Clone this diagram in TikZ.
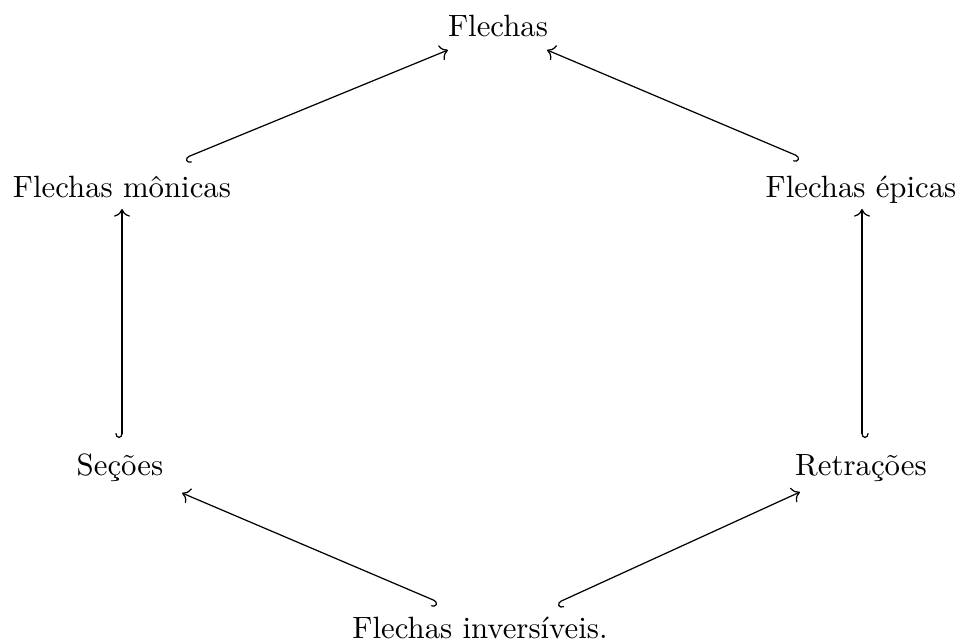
\documentclass[tikz,border=0pt]{standalone}
\usepackage{fontspec}
\usetikzlibrary{cd,calc}
\begin{document}
\begin{tikzpicture}[x=0.3247pt,y=-0.3247pt,
  lbl/.style={anchor=base,inner sep=0pt},
  inc/.style={line width=0.4pt,{tikzcd right hook}-{tikzcd to}},
  incp/.style={line width=0.4pt,{tikzcd left hook}-{tikzcd to}}]
\useasboundingbox (0,0) rectangle (959,641);
\node[lbl] (fl) at (498,37) {Flechas};
\node[lbl] (mon) at (122,197) {Flechas mônicas};
\node[lbl] (epi) at (861,197) {Flechas épicas};
\node[lbl] (sec) at (120,475) {Seções};
\node[lbl] (ret) at (861,475) {Retrações};
\node[lbl] (inv) at (480,638) {Flechas inversíveis.};
\draw[incp] ($(mon.base)+(63,-39)$) -- ($(fl.base)+(-50,13)$);
\draw[inc] ($(epi.base)+(-61,-40)$) -- ($(fl.base)+(49,13)$);
\draw[inc] ($(sec.base)+(2,-37)$) -- ($(mon.base)+(0,12)$);
\draw[incp] ($(ret.base)+(1,-37)$) -- ($(epi.base)+(1,12)$);
\draw[inc] ($(inv.base)+(-42,-36)$) -- ($(sec.base)+(62,18)$);
\draw[incp] ($(inv.base)+(77,-35)$) -- ($(ret.base)+(-61,17)$);
\end{tikzpicture}
\end{document}
